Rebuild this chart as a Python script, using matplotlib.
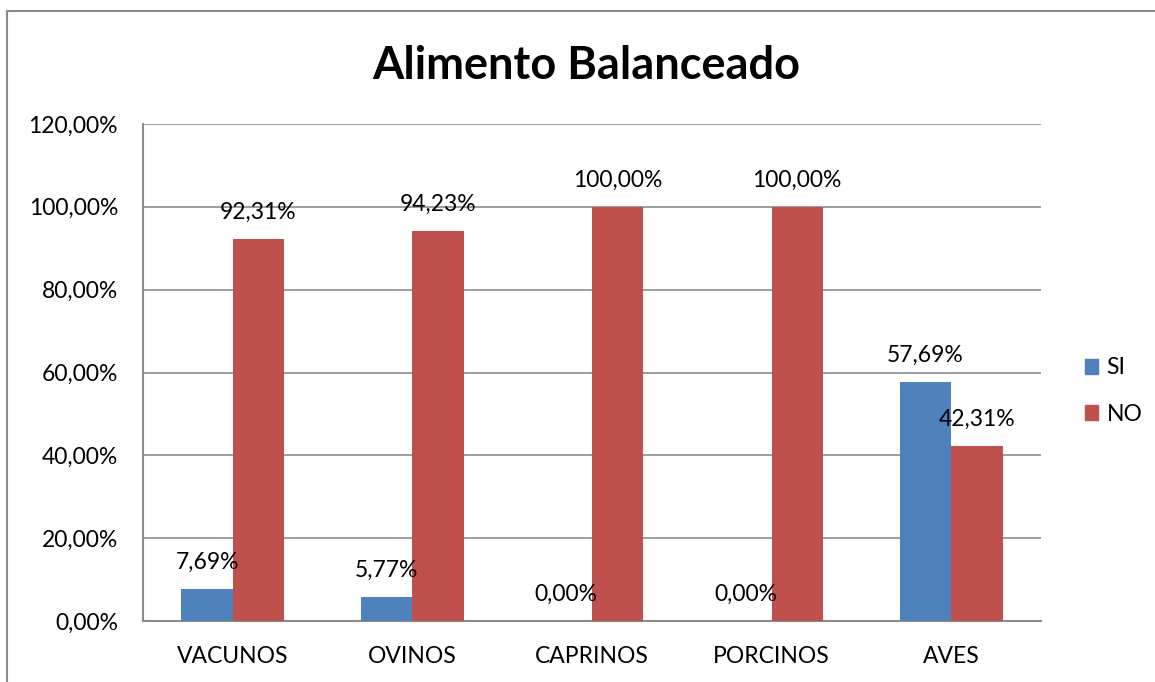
import matplotlib.pyplot as plt
from matplotlib.patches import Patch, Rectangle
import numpy as np

# data
categories = ['VACUNOS', 'OVINOS', 'CAPRINOS', 'PORCINOS', 'AVES']
si_values = [7.69, 5.77, 0.00, 0.00, 57.69]
no_values = [92.31, 94.23, 100.00, 100.00, 42.31]
series_names = ['SI', 'NO']
y_ticks = [0, 20, 40, 60, 80, 100, 120]


def fmt(v):
    return f'{v:.2f}'.replace('.', ',') + '%'


plt.rcParams['font.family'] = ['Lato', 'DejaVu Sans']

fig = plt.figure(figsize=(11.55, 6.82), dpi=100)
ax = fig.add_axes([143 / 1155, 1 - 621 / 682, (1041 - 143) / 1155, (621 - 124) / 682])

x = np.arange(len(categories))
w = 1 / 3.5
bars_si = ax.bar(x - w / 2, si_values, w, color='#4F81BD', zorder=3)
bars_no = ax.bar(x + w / 2, no_values, w, color='#C0504D', zorder=3)

# value labels above bars
for bars, vals in [(bars_si, si_values), (bars_no, no_values)]:
    for b, v in zip(bars, vals):
        ax.annotate(fmt(v), (b.get_x() + b.get_width() / 2, v),
                    xytext=(0, 19), textcoords='offset points',
                    ha='center', va='center', fontsize=16.5, zorder=4)

ax.set_xlim(-0.5, len(categories) - 0.5)
ax.set_ylim(0, 120)
ax.set_yticks(y_ticks)
ax.set_yticklabels([fmt(t) for t in y_ticks])
ax.set_xticks(x)
ax.set_xticklabels(categories)
ax.tick_params(axis='both', length=0, labelsize=16.5, pad=18)
ax.tick_params(axis='x', pad=18)

ax.grid(axis='y', color='#8c8c8c', linewidth=1.2, zorder=0)
for s in ['top', 'right']:
    ax.spines[s].set_visible(False)
for s in ['left', 'bottom']:
    ax.spines[s].set_color('#8c8c8c')
    ax.spines[s].set_linewidth(1.5)

fig.text(586 / 1155, 1 - 66 / 682, 'Alimento Balanceado', ha='center', va='center',
         fontsize=32.5, fontweight='bold')

handles = [Patch(color='#4F81BD'), Patch(color='#C0504D')]
fig.legend(handles, series_names, loc='center left',
           bbox_to_anchor=(1064 / 1155, 1 - 391 / 682), frameon=False,
           fontsize=16.5, handlelength=0.6, handleheight=0.6,
           handletextpad=0.35, labelspacing=1.1)

# outer chart border (only top and left visible in the crop)
fig.add_artist(Rectangle((7 / 1155, -0.1), 1.2, 1.1 - 11 / 682,
                         transform=fig.transFigure, fill=False,
                         edgecolor='#8c8c8c', linewidth=1.5, clip_on=False))

fig.savefig('out.png', dpi=100)
